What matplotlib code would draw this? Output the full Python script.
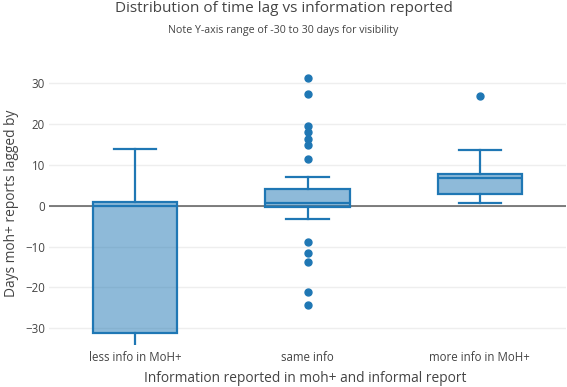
import matplotlib
matplotlib.use("Agg")
import matplotlib.pyplot as plt

plt.rcParams['font.family'] = ['Open Sans', 'DejaVu Sans']

categories = ["less info in MoH+", "same info", "more info in MoH+"]
whisker_low = [-40.0, -3.3, 0.7]
q1 = [-31.1, -0.25, 3.0]
medians = [0.0, 0.7, 6.9]
q3 = [1.0, 4.1, 7.9]
whisker_high = [14.0, 7.1, 13.7]
outliers = [
    [],
    [31.4, 27.3, 19.6, 18.0, 16.4, 15.0, 11.4, -8.8, -11.7, -13.7, -21.2, -24.2],
    [27.0],
]
yticks = [-30, -20, -10, 0, 10, 20, 30]

blue = '#1f77b4'
fill = (31/255, 119/255, 180/255, 0.5)
text_color = '#444444'

fig = plt.figure(figsize=(5.67, 3.87), dpi=100)
ax = fig.add_axes([49/567, 1-344.5/387, (566-49)/567, (344.5-67)/387])

stats = []
for i, c in enumerate(categories):
    stats.append(dict(label=c, whislo=whisker_low[i], q1=q1[i], med=medians[i],
                      q3=q3[i], whishi=whisker_high[i], fliers=outliers[i]))

ax.bxp(stats, positions=range(len(categories)), widths=0.49, patch_artist=True,
       showfliers=True,
       boxprops=dict(facecolor=fill, edgecolor=blue, linewidth=1.6),
       medianprops=dict(color=blue, linewidth=1.6),
       whiskerprops=dict(color=blue, linewidth=1.6),
       capprops=dict(color=blue, linewidth=1.6),
       capwidths=0.245,
       flierprops=dict(marker='o', markerfacecolor=blue, markeredgecolor=blue,
                       markersize=5, linestyle='none'))

ax.set_xlim(-0.5, 2.5)
ax.set_ylim(-34, 34)
ax.set_yticks(yticks)
ax.set_yticklabels([str(t).replace('-', '\u2212') for t in yticks])
ax.grid(axis='y', color='#eeeeee', linewidth=1)
ax.set_axisbelow(True)
ax.axhline(0, color='#444444', linewidth=1.2, alpha=0.8, zorder=1.5)
for s in ax.spines.values():
    s.set_visible(False)
ax.tick_params(axis='y', length=0, labelsize=8.3, colors=text_color, pad=3)
ax.tick_params(axis='x', length=0, labelsize=8.3, colors=text_color, pad=5)
ax.set_xticks(range(len(categories)))
ax.set_xticklabels(categories)

fig.text(12/567, 1-203/387, "Days moh+ reports lagged by", rotation=90, ha='center', va='center',
         fontsize=9.9, color=text_color)
fig.text(305/567, 1-378/387, "Information reported in moh+ and informal report", ha='center', va='center',
         fontsize=9.9, color=text_color)

fig.text(283.5/567, 1-9/387, "Distribution of time lag vs information reported", ha='center', va='center',
         fontsize=11, color=text_color)
fig.text(283.5/567, 1-31/387, "Note Y-axis range of -30 to 30 days for visibility", ha='center', va='center',
         fontsize=7.7, color=text_color)

fig.savefig("out.png", dpi=100)
